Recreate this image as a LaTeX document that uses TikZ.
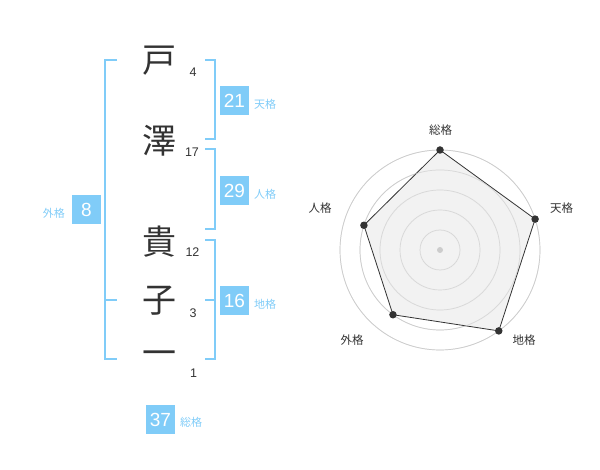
\documentclass[tikz,border=0pt]{standalone}
\usepackage{fontspec}
\usetikzlibrary{calc}
\setmainfont{Liberation Sans}
\newfontfamily\jp{Noto Sans CJK JP}
\definecolor{kblue}{RGB}{128,204,248}
\definecolor{kdark}{RGB}{51,51,51}
\definecolor{kgrid}{RGB}{204,204,204}
\definecolor{kfill}{RGB}{240,240,240}
\tikzset{
  kanji/.style={font=\jp\fontsize{34}{34}\selectfont, text=kdark, inner sep=0pt},
  strokes/.style={font=\fontsize{12.5}{12.5}\selectfont, text=kdark, inner sep=0pt},
  numbox/.style={fill=kblue, text=white, minimum width=29pt, minimum height=29pt, inner sep=0pt, font=\fontsize{19}{19}\selectfont},
  kaku/.style={text=kblue, font=\jp\fontsize{11}{11}\selectfont, inner sep=0pt},
  bracket/.style={draw=kblue, line width=1.8pt},
  axislabel/.style={text=kdark, font=\jp\fontsize{11.5}{11.5}\selectfont, inner sep=0pt},
  ring/.style={draw=kgrid, line width=0.7pt},
  vdot/.style={circle, fill=kdark, inner sep=0pt, minimum size=7.5pt},
}
\begin{document}
\begin{tikzpicture}[x=1pt,y=-1pt]
\useasboundingbox (0,0) rectangle (600,470);
% characters
\node[kanji] (c1) at (159,61) {戸};
\node[kanji] (c2) at (159,141) {澤};
\node[kanji] (c3) at (159,242) {貴};
\node[kanji] (c4) at (159,301) {子};
\node[kanji] (c5) at (159,358) {一};
\node[strokes] (s1) at (193,72.5) {4};
\node[strokes] (s2) at (192,152.5) {17};
\node[strokes] (s3) at (192.5,252.5) {12};
\node[strokes] (s4) at (193,313) {3};
\node[strokes] (s5) at (193.5,373) {1};
% brackets
\draw[bracket] (117,60) -- (105,60) -- (105,359) -- (117,359);
\draw[bracket] (105,300) -- (117,300);
\draw[bracket] (205,60) -- (215,60) -- (215,139) -- (205,139);
\draw[bracket] (205,149) -- (215,149) -- (215,229) -- (205,229);
\draw[bracket] (205,240) -- (215,240) -- (215,359) -- (205,359);
\draw[bracket] (205,300) -- (215,300);
% boxes
\node[numbox] (ten) at (234.5,100.5) {21};
\node[kaku, anchor=west] (tenl) at (254,104) {天格};
\node[numbox] (jin) at (234.5,190.5) {29};
\node[kaku, anchor=west] (jinl) at (254,194) {人格};
\node[numbox] (chi) at (234.5,300.5) {16};
\node[kaku, anchor=west] (chil) at (254,304) {地格};
\node[numbox] (gai) at (86.5,210) {8};
\node[kaku, anchor=east] (gail) at (65,213.5) {外格};
\node[numbox] (sou) at (160.5,419.5) {37};
\node[kaku, anchor=west] (soul) at (180,422.5) {総格};
% radar
\coordinate (rc) at (440,250);
\foreach \r in {20,40,60,80,100} \draw[ring] (rc) circle (\r);
\coordinate (p1) at ($(rc)+(-90:100)$);
\coordinate (p2) at ($(rc)+(-18:100)$);
\coordinate (p3) at ($(rc)+(54:100)$);
\coordinate (p4) at ($(rc)+(126:80)$);
\coordinate (p5) at ($(rc)+(198:80)$);
\draw[kdark, fill=kfill, fill opacity=0.85, line width=0.8pt] (p1) -- (p2) -- (p3) -- (p4) -- (p5) -- cycle;
\foreach \r in {20,40,60,80,100} \draw[ring, opacity=0.6] (rc) circle (\r);
\fill[kgrid] (rc) circle (3);
\foreach \p in {p1,p2,p3,p4,p5} \node[vdot] at (\p) {};
\node[axislabel] (a1) at (440.5,130.5) {総格};
\node[axislabel] (a2) at (561.5,208.5) {天格};
\node[axislabel] (a3) at (524,340.5) {地格};
\node[axislabel] (a4) at (352,340.5) {外格};
\node[axislabel] (a5) at (320,208.5) {人格};
\end{tikzpicture}
\end{document}
